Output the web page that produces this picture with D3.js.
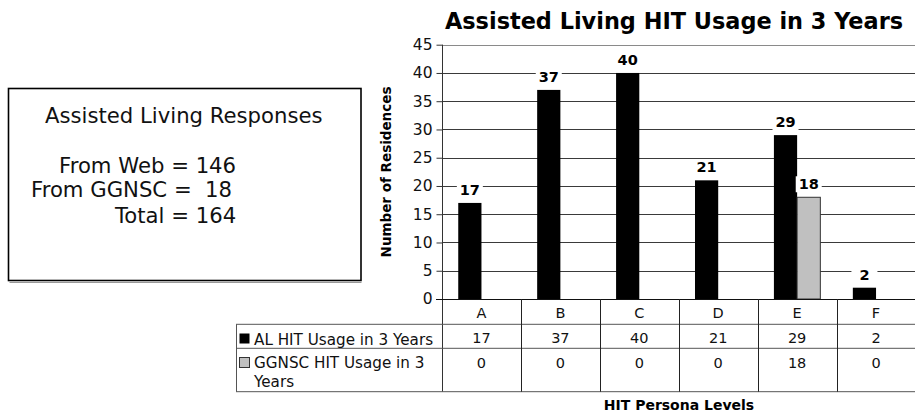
<!DOCTYPE html>
<html><head><meta charset="utf-8">
<script src="https://cdn.jsdelivr.net/npm/d3@7"></script>
<style>body{margin:0;background:#fff}svg{display:block;font-family:"DejaVu Sans",Verdana,sans-serif}</style>
</head><body>
<svg id="c" width="915" height="414"></svg>
<script>
const categories = ["A","B","C","D","E","F"];
const alValues = [17,37,40,21,29,2];
const ggnscValues = [0,0,0,0,18,0];
const seriesNames = ["AL HIT Usage in 3 Years","GGNSC HIT Usage in 3 Years"];
const yTicks = [0,5,10,15,20,25,30,35,40,45];
const title = "Assisted Living HIT Usage in 3 Years";
const yTitle = "Number of Residences";
const xTitle = "HIT Persona Levels";
const boxLines = ["Assisted Living Responses","From Web = 146","From GGNSC =  18","Total = 164"];

const svg = d3.select("#c");
const L = 442, R = 915.5, T = 44.7, B = 299;
const rowY = [299, 324.3, 348.3, 391.7];
const tableLeft = 236;

const x = d3.scaleBand().domain(categories).range([L, R]).padding(0);
const xs = d3.scaleBand().domain([0,1]).range([0, x.bandwidth()]).paddingInner(0).paddingOuter(0.7);
const y = d3.scaleLinear().domain([0,45]).range([B, T]);

// text box
const box = svg.append("g");
box.append("rect").attr("x",9.5).attr("y",282).attr("width",352).attr("height",1).attr("fill","#999");
box.append("rect").attr("x",8.5).attr("y",88.5).attr("width",352.5).attr("height",192).attr("fill","none").attr("stroke","#000").attr("stroke-width",1.6);
const bx = [45, 59, 31, 115], by = [123, 173, 197, 223];
box.selectAll("text").data(boxLines).join("text")
  .attr("x",(d,i)=>bx[i]).attr("y",(d,i)=>by[i])
  .attr("font-size",21.2).attr("fill","#111").style("white-space","pre").text(d=>d);

// title
svg.append("text").attr("x",674).attr("y",29).attr("text-anchor","middle")
  .attr("font-size",22.4).attr("font-weight","bold").attr("fill","#000").text(title);

// gridlines
svg.append("g").selectAll("line").data(yTicks.filter(d=>d>0)).join("line")
  .attr("x1",L).attr("x2",R).attr("y1",d=>Math.round(y(d))+0.5).attr("y2",d=>Math.round(y(d))+0.5)
  .attr("stroke",d=>d===45?"#8a8a8a":"#3a3a3a").attr("stroke-width",1);

// y axis
const yAxis = d3.axisLeft(y).tickValues(yTicks).tickSize(6).tickPadding(4);
const ga = svg.append("g").attr("transform",`translate(${L+0.5},0)`).call(yAxis);
ga.select(".domain").remove();
ga.selectAll(".tick line").attr("stroke","#333");
ga.selectAll(".tick text").attr("font-size",15.5).attr("fill","#111").attr("font-family","DejaVu Sans, sans-serif");
svg.append("line").attr("x1",L+0.5).attr("x2",L+0.5).attr("y1",T).attr("y2",rowY[3]).attr("stroke","#333");

svg.append("text").attr("transform",`translate(391,172) rotate(-90)`).attr("text-anchor","middle")
  .attr("font-size",13.5).attr("font-weight","bold").attr("fill","#000").text(yTitle);

// bars
const series = [alValues, ggnscValues];
const fills = ["#000000","#c0c0c0"];
const barsG = svg.append("g");
series.forEach((vals, si) => {
  barsG.selectAll(null).data(categories.map((c,i)=>({c, v:vals[i]})).filter(d=>d.v>0)).join("rect")
    .attr("x",d=>x(d.c)+xs(si)).attr("width",xs.bandwidth())
    .attr("y",d=>y(d.v)).attr("height",d=>y(0)-y(d.v))
    .attr("fill",fills[si]).attr("stroke",si===1?"#333":"none").attr("stroke-width",1);
});
// labels
series.forEach((vals, si) => {
  const g = svg.append("g");
  const data = categories.map((c,i)=>({c, v:vals[i]})).filter(d=>d.v>0);
  const lg = g.selectAll("g").data(data).join("g")
    .attr("transform",d=>`translate(${x(d.c)+xs(si)+xs.bandwidth()/2},${y(d.v)-8})`);
  lg.append("rect").attr("x",-13).attr("y",-13).attr("width",26).attr("height",16).attr("fill","#fff");
  lg.append("text").attr("text-anchor","middle").attr("font-size",14.5).attr("font-weight","bold").attr("fill","#000").text(d=>d.v);
});

// x axis line
svg.append("line").attr("x1",L-6).attr("x2",R).attr("y1",B+0.5).attr("y2",B+0.5).attr("stroke","#111").attr("stroke-width",1.2);

// table
const tg = svg.append("g");
[rowY[1],rowY[2],rowY[3]].forEach(yy=>{
  tg.append("line").attr("x1",tableLeft).attr("x2",R).attr("y1",yy).attr("y2",yy).attr("stroke","#555");
});
tg.append("line").attr("x1",tableLeft+0.5).attr("x2",tableLeft+0.5).attr("y1",rowY[1]).attr("y2",rowY[3]).attr("stroke","#555");
tg.selectAll(".vl").data(categories.slice(1)).join("line")
  .attr("x1",d=>Math.round(x(d))+0.5).attr("x2",d=>Math.round(x(d))+0.5)
  .attr("y1",B).attr("y2",rowY[3]).attr("stroke","#222");
tg.selectAll(".cat").data(categories).join("text")
  .attr("x",d=>x(d)+x.bandwidth()/2).attr("y",318).attr("text-anchor","middle")
  .attr("font-size",14.5).attr("fill","#111").text(d=>d);
const rowBase = [343, 368];
series.forEach((vals, si)=>{
  tg.selectAll(null).data(categories.map((c,i)=>({c,v:vals[i]}))).join("text")
    .attr("x",d=>x(d.c)+x.bandwidth()/2).attr("y",rowBase[si]).attr("text-anchor","middle")
    .attr("font-size",14.5).attr("fill","#111").text(d=>d.v);
});
// legend keys
tg.append("rect").attr("x",239.5).attr("y",333.5).attr("width",10).attr("height",10).attr("fill","#000");
tg.append("rect").attr("x",239.5).attr("y",357.5).attr("width",10).attr("height",10).attr("fill","#c0c0c0").attr("stroke","#333");
tg.append("text").attr("x",254).attr("y",345).attr("font-size",15.2).attr("fill","#111").text(seriesNames[0]);
const t2 = tg.append("text").attr("font-size",15.2).attr("fill","#111");
t2.append("tspan").attr("x",254).attr("y",368).text("GGNSC HIT Usage in 3");
t2.append("tspan").attr("x",254).attr("y",387).text("Years");

svg.append("text").attr("x",679).attr("y",410).attr("text-anchor","middle")
  .attr("font-size",14).attr("font-weight","bold").attr("fill","#000").text(xTitle);
</script>
</body></html>
